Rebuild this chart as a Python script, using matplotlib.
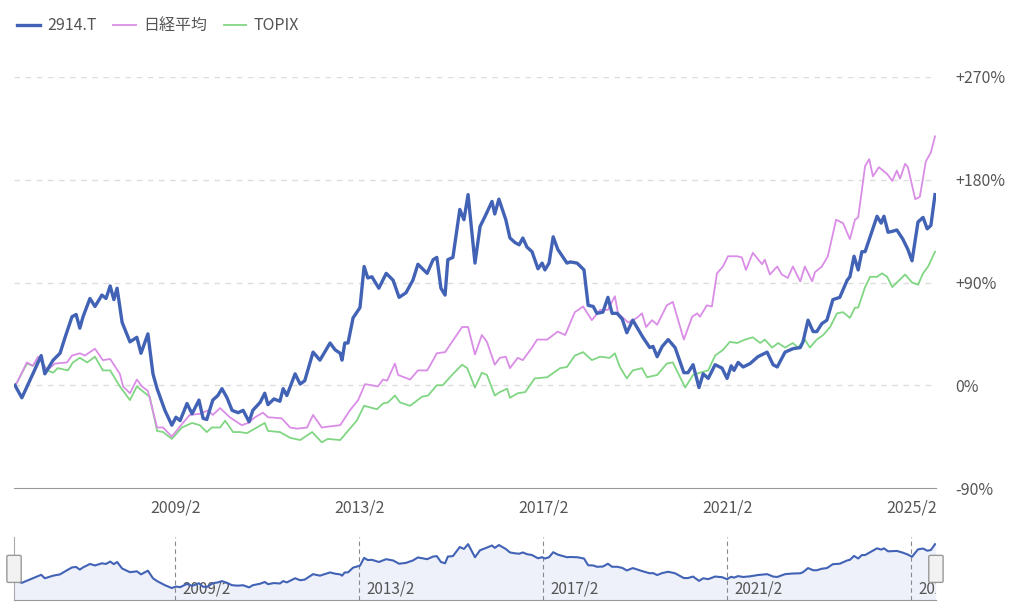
import matplotlib
matplotlib.use("Agg")
import matplotlib.pyplot as plt
from matplotlib.patches import FancyBboxPatch

plt.rcParams["font.family"] = ["Noto Sans CJK JP", "DejaVu Sans"]

# dates as decimal years, values as % change from start
jt_t = [2005.60, 2005.75, 2005.99, 2006.17, 2006.25, 2006.43, 2006.58, 2006.69, 2006.84, 2006.93,
        2007.01, 2007.08, 2007.23, 2007.34, 2007.49, 2007.58, 2007.67, 2007.75, 2007.82, 2007.93,
        2008.10, 2008.25, 2008.34, 2008.49, 2008.60, 2008.69, 2008.86, 2009.01, 2009.10, 2009.19,
        2009.34, 2009.45, 2009.60, 2009.69, 2009.77, 2009.90, 2010.01, 2010.10, 2010.21, 2010.32,
        2010.45, 2010.56, 2010.69, 2010.77, 2010.93, 2011.03, 2011.10, 2011.23, 2011.36, 2011.43,
        2011.51, 2011.69, 2011.80, 2011.90, 2012.08, 2012.23, 2012.45, 2012.56, 2012.67, 2012.71,
        2012.77, 2012.84, 2012.95, 2013.10, 2013.19, 2013.27, 2013.36, 2013.51, 2013.67, 2013.82,
        2013.95, 2014.10, 2014.25, 2014.36, 2014.56, 2014.69, 2014.77, 2014.86, 2014.95, 2015.01,
        2015.12, 2015.27, 2015.36, 2015.45, 2015.60, 2015.71, 2015.82, 2015.97, 2016.03, 2016.12,
        2016.27, 2016.36, 2016.47, 2016.56, 2016.64, 2016.73, 2016.84, 2016.97, 2017.06, 2017.12,
        2017.21, 2017.30, 2017.40, 2017.60, 2017.67, 2017.82, 2017.97, 2018.06, 2018.17, 2018.25,
        2018.38, 2018.49, 2018.58, 2018.69, 2018.80, 2018.90, 2019.03, 2019.25, 2019.40, 2019.47,
        2019.56, 2019.67, 2019.80, 2019.95, 2020.14, 2020.23, 2020.34, 2020.47, 2020.56, 2020.67,
        2020.82, 2020.97, 2021.08, 2021.17, 2021.23, 2021.32, 2021.43, 2021.58, 2021.75, 2021.95,
        2022.08, 2022.17, 2022.34, 2022.51, 2022.67, 2022.73, 2022.84, 2022.95, 2023.03, 2023.14,
        2023.25, 2023.38, 2023.53, 2023.69, 2023.75, 2023.84, 2023.93, 2024.01, 2024.08, 2024.34,
        2024.43, 2024.49, 2024.58, 2024.69, 2024.77, 2024.90, 2025.01, 2025.10, 2025.23, 2025.34,
        2025.43, 2025.51, 2025.60]
jt_v = [0, -11, 10, 26, 10, 22, 28, 42, 60, 62,
        50, 60, 76, 69, 79, 76, 87, 75, 85, 55,
        38, 42, 28, 45, 10, -3, -22, -35, -28, -31,
        -16, -25, -13, -29, -30, -13, -9, -3, -11, -22,
        -24, -22, -32, -22, -15, -7, -17, -12, -14, -3,
        -9, 10, 1, 4, 29, 22, 37, 31, 28, 22,
        37, 37, 59, 68, 104, 94, 95, 85, 98, 92,
        77, 81, 92, 106, 98, 110, 112, 85, 79, 110,
        112, 154, 145, 167, 107, 139, 148, 161, 150, 163,
        145, 129, 125, 123, 129, 121, 117, 102, 107, 101,
        107, 130, 119, 107, 108, 107, 101, 70, 69, 63,
        64, 77, 63, 63, 58, 46, 57, 42, 33, 34,
        25, 34, 40, 33, 11, 11, 18, -2, 10, 6,
        18, 15, 6, 17, 13, 20, 16, 19, 25, 29,
        18, 16, 29, 32, 33, 38, 57, 47, 47, 54,
        57, 75, 77, 92, 95, 113, 101, 117, 117, 148,
        142, 148, 134, 135, 136, 128, 119, 109, 143, 147,
        137, 140, 167]

nk_t = [2005.60, 2005.64, 2005.86, 2005.99, 2006.10, 2006.30, 2006.47, 2006.73, 2006.84, 2007.01,
        2007.12, 2007.34, 2007.51, 2007.67, 2007.88, 2007.95, 2008.10, 2008.25, 2008.36, 2008.49,
        2008.69, 2008.82, 2009.01, 2009.23, 2009.40, 2009.62, 2009.80, 2009.90, 2010.06, 2010.27,
        2010.53, 2010.67, 2010.82, 2010.99, 2011.10, 2011.40, 2011.58, 2011.73, 2011.95, 2012.08,
        2012.27, 2012.45, 2012.67, 2012.88, 2013.06, 2013.21, 2013.49, 2013.60, 2013.69, 2013.86,
        2013.93, 2014.19, 2014.36, 2014.56, 2014.62, 2014.77, 2014.95, 2015.17, 2015.32, 2015.45,
        2015.60, 2015.75, 2015.86, 2016.03, 2016.14, 2016.27, 2016.36, 2016.53, 2016.64, 2016.84,
        2016.95, 2017.17, 2017.40, 2017.56, 2017.77, 2017.95, 2018.14, 2018.32, 2018.49, 2018.64,
        2018.71, 2018.82, 2018.93, 2019.12, 2019.23, 2019.32, 2019.45, 2019.56, 2019.77, 2019.90,
        2020.14, 2020.32, 2020.43, 2020.49, 2020.64, 2020.75, 2020.86, 2020.99, 2021.10, 2021.30,
        2021.40, 2021.49, 2021.64, 2021.84, 2021.90, 2022.01, 2022.17, 2022.27, 2022.40, 2022.51,
        2022.67, 2022.77, 2022.93, 2022.99, 2023.14, 2023.27, 2023.45, 2023.60, 2023.75, 2023.86,
        2023.93, 2024.08, 2024.17, 2024.25, 2024.38, 2024.56, 2024.67, 2024.77, 2024.84, 2024.95,
        2025.01, 2025.17, 2025.27, 2025.40, 2025.51, 2025.60]
nk_v = [0, 2, 20, 17, 25, 13, 19, 20, 26, 28,
        26, 32, 22, 23, 10, -1, -7, 5, -1, -5,
        -37, -37, -45, -34, -26, -25, -22, -26, -20, -28,
        -35, -33, -28, -24, -28, -29, -37, -38, -37, -26,
        -37, -36, -35, -22, -13, 1, -1, 5, 4, 19,
        9, 5, 13, 13, 17, 28, 29, 42, 51, 51,
        27, 44, 38, 18, 24, 25, 15, 24, 22, 33,
        40, 40, 47, 44, 64, 69, 57, 66, 66, 78,
        63, 59, 55, 59, 63, 51, 57, 53, 70, 73,
        40, 60, 63, 60, 70, 69, 98, 104, 113, 113,
        112, 101, 116, 106, 110, 97, 104, 97, 94, 104,
        91, 104, 91, 99, 104, 113, 145, 142, 128, 145,
        147, 192, 198, 183, 191, 185, 179, 188, 181, 194,
        191, 163, 165, 196, 204, 218]

tp_t = [2005.60, 2005.64, 2005.86, 2005.99, 2006.14, 2006.30, 2006.43, 2006.53, 2006.75, 2006.86,
        2007.01, 2007.17, 2007.34, 2007.51, 2007.67, 2007.88, 2008.10, 2008.25, 2008.43, 2008.53,
        2008.69, 2008.82, 2009.01, 2009.23, 2009.45, 2009.62, 2009.77, 2009.88, 2010.06, 2010.17,
        2010.34, 2010.49, 2010.64, 2010.86, 2011.03, 2011.10, 2011.36, 2011.58, 2011.80, 2012.06,
        2012.27, 2012.40, 2012.67, 2012.88, 2013.03, 2013.19, 2013.47, 2013.60, 2013.71, 2013.86,
        2013.97, 2014.19, 2014.45, 2014.58, 2014.77, 2014.90, 2015.10, 2015.32, 2015.43, 2015.60,
        2015.75, 2015.86, 2016.03, 2016.14, 2016.30, 2016.36, 2016.53, 2016.69, 2016.90, 2017.17,
        2017.45, 2017.60, 2017.77, 2017.95, 2018.14, 2018.32, 2018.53, 2018.64, 2018.75, 2018.90,
        2019.03, 2019.23, 2019.34, 2019.56, 2019.77, 2019.90, 2020.17, 2020.34, 2020.49, 2020.67,
        2020.82, 2020.99, 2021.14, 2021.30, 2021.47, 2021.64, 2021.80, 2021.90, 2022.06, 2022.19,
        2022.34, 2022.51, 2022.62, 2022.77, 2022.88, 2023.03, 2023.17, 2023.32, 2023.47, 2023.60,
        2023.75, 2023.86, 2023.93, 2024.08, 2024.19, 2024.34, 2024.45, 2024.56, 2024.67, 2024.77,
        2024.95, 2025.10, 2025.23, 2025.34, 2025.45, 2025.60]
tp_v = [0, 2, 19, 17, 24, 13, 11, 15, 13, 20,
        24, 20, 25, 13, 13, -1, -13, -1, -7, -10,
        -40, -41, -47, -37, -33, -35, -41, -37, -37, -31,
        -41, -41, -42, -37, -33, -40, -41, -46, -48, -41,
        -50, -47, -48, -38, -31, -18, -21, -16, -15, -9,
        -15, -18, -10, -9, 0, 0, 9, 18, 15, -2,
        11, 9, -9, -6, -3, -11, -7, -6, 6, 7,
        15, 16, 26, 29, 22, 25, 24, 28, 16, 6,
        13, 15, 7, 9, 19, 20, -2, 9, 11, 13,
        26, 31, 38, 37, 40, 42, 37, 40, 33, 37,
        33, 37, 33, 40, 33, 40, 44, 51, 63, 64,
        59, 68, 68, 86, 95, 95, 98, 95, 86, 90,
        97, 90, 88, 98, 104, 117]

y_ticks = [-90, 0, 90, 180, 270]
y_labels = ["-90%", "0%", "+90%", "+180%", "+270%"]
x_ticks = [2009 + 1 / 12, 2013 + 1 / 12, 2017 + 1 / 12, 2021 + 1 / 12, 2025 + 1 / 12]
x_labels = ["2009/2", "2013/2", "2017/2", "2021/2", "2025/2"]

c_jt, c_nk, c_tp = "#4263b5", "#da8de6", "#80d683"
txt = "#555555"
xmin, xmax = 2005.58, 2025.62

fig = plt.figure(figsize=(10.24, 6.15), dpi=100)
ax = fig.add_axes([0.0137, 0.2065, 0.9003, 0.6683])
ax.plot(tp_t, tp_v, color=c_tp, lw=1.3, label="TOPIX", zorder=2)
ax.plot(nk_t, nk_v, color=c_nk, lw=1.3, label="日経平均", zorder=3)
ax.plot(jt_t, jt_v, color=c_jt, lw=2.4, label="2914.T", zorder=4)
ax.set_xlim(xmin, xmax)
ax.set_ylim(-90, 270)
for v in y_ticks[1:]:
    ax.axhline(v, color="#dddddd", lw=1, ls=(0, (4, 4)), zorder=1)
for s in ["top", "left", "right"]:
    ax.spines[s].set_visible(False)
ax.spines["bottom"].set_color("#999999")
ax.yaxis.tick_right()
ax.set_yticks(y_ticks, y_labels)
ax.set_xticks(x_ticks, x_labels)
ax.tick_params(length=0, colors=txt, labelsize=11.5)
ax.tick_params(axis="y", pad=14)
ax.tick_params(axis="x", pad=8)
h, l = ax.get_legend_handles_labels()
fig.legend(h[::-1], l[::-1], loc="upper left", bbox_to_anchor=(0.003, 0.995), ncol=3,
           frameon=False, fontsize=11.5, labelcolor=txt, handlelength=1.4,
           handletextpad=0.5, columnspacing=1.0)

# navigator
nav = fig.add_axes([0.0137, 0.0244, 0.9003, 0.1024])
nav.fill_between(jt_t, jt_v, -90, color="#eef1fa", zorder=1)
nav.plot(jt_t, jt_v, color=c_jt, lw=1.5, zorder=3)
nav.set_xlim(xmin, xmax)
nav.set_ylim(-90, 200)
for xt, lb in zip(x_ticks, x_labels):
    nav.axvline(xt, color="#888888", lw=0.8, ls=(0, (4, 3)), zorder=2)
    nav.text(xt + 0.15, -80, lb, fontsize=11, color=txt, va="bottom", ha="left",
             clip_on=True, zorder=2)
nav.set_xticks([])
nav.set_yticks([])
for s in ["top", "right"]:
    nav.spines[s].set_visible(False)
nav.spines["left"].set_color("#aaaaaa")
nav.spines["bottom"].set_color("#999999")
for hx in [0.0137, 0.9140]:
    fig.patches.append(FancyBboxPatch((hx - 0.005, 0.055), 0.01, 0.04,
                                      boxstyle="round,pad=0.002", transform=fig.transFigure,
                                      fc="#f2f2f2", ec="#999999", lw=1))

fig.savefig("out.png", dpi=100)
